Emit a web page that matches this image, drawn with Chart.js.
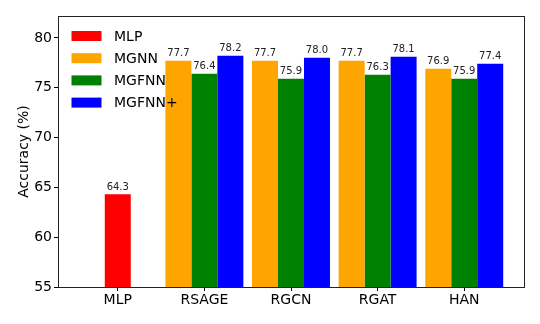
<!DOCTYPE html>
<html><head><meta charset="utf-8">
<script src="https://cdn.jsdelivr.net/npm/chart.js@4.4.0/dist/chart.umd.min.js"></script>
<style>html,body{margin:0;padding:0;background:#fff}#wrap{width:540px;height:324px;position:relative}</style>
</head><body><div id="wrap"><canvas id="c"></canvas></div>
<script>
const categories = ['MLP', 'RSAGE', 'RGCN', 'RGAT', 'HAN'];
const seriesNames = ['MLP', 'MGNN', 'MGFNN', 'MGFNN+'];
const mlpValues = [64.3, null, null, null, null];
const mgnnValues = [null, 77.7, 77.7, 77.7, 76.9];
const mgfnnValues = [null, 76.4, 75.9, 76.3, 75.9];
const mgfnnPlusValues = [null, 78.2, 78.0, 78.1, 77.4];
const yTicks = [55, 60, 65, 70, 75, 80];
const colors = ['#ff0000', '#ffa500', '#008000', '#0000ff'];

const FONT = "'DejaVu Sans', sans-serif";
const seriesValues = [mlpValues, mgnnValues, mgfnnValues, mgfnnPlusValues];

const datasets = seriesNames.map((name, i) => ({
  label: name,
  data: seriesValues[i],
  backgroundColor: colors[i],
  borderWidth: 0,
  categoryPercentage: 0.9,
  barPercentage: i === 0 ? 1 / 3 : 1,
  skipNull: true
}));

const framePlugin = {
  id: 'frame',
  afterDatasetsDraw(chart) {
    const {ctx, chartArea: a} = chart;
    ctx.save();
    ctx.strokeStyle = '#222';
    ctx.lineWidth = 1;
    ctx.strokeRect(Math.round(a.left) + 0.5, Math.round(a.top) + 0.5,
      Math.round(a.right - a.left), Math.round(a.bottom - a.top));
    ctx.restore();
  }
};

const valueLabelPlugin = {
  id: 'valueLabels',
  afterDatasetsDraw(chart) {
    const {ctx} = chart;
    ctx.save();
    ctx.font = '10px ' + FONT;
    ctx.fillStyle = '#222';
    ctx.textAlign = 'center';
    ctx.textBaseline = 'bottom';
    chart.data.datasets.forEach((ds, di) => {
      const meta = chart.getDatasetMeta(di);
      meta.data.forEach((el, idx) => {
        const v = ds.data[idx];
        if (v === null || v === undefined) return;
        ctx.fillText(v.toFixed(1), el.x, el.y - 2);
      });
    });
    ctx.restore();
  }
};

const legendPlugin = {
  id: 'innerLegend',
  afterDraw(chart) {
    const {ctx, chartArea: a} = chart;
    ctx.save();
    ctx.font = '14px ' + FONT;
    ctx.textBaseline = 'middle';
    ctx.textAlign = 'left';
    chart.data.datasets.forEach((ds, i) => {
      const cy = a.top + 20 + i * 22.2;
      const x0 = a.left + 13.5;
      ctx.fillStyle = ds.backgroundColor;
      ctx.fillRect(x0, cy - 5, 30, 10);
      ctx.fillStyle = '#000';
      ctx.fillText(ds.label, x0 + 42.5, cy + 1);
    });
    ctx.restore();
  }
};

new Chart(document.getElementById('c'), {
  type: 'bar',
  data: {
    labels: categories.map((c, i) => i),
    datasets
  },
  options: {
    responsive: true,
    maintainAspectRatio: false,
    animation: false,
    layout: {padding: {left: 0, top: 16, right: 16, bottom: 0}},
    plugins: {legend: {display: false}, tooltip: {enabled: false}},
    scales: {
      x: {
        type: 'linear',
        min: -0.69,
        max: 4.69,
        offset: false,
        grid: {offset: false, drawOnChartArea: false, drawTicks: true, tickLength: 4, color: '#000'},
        border: {display: false},
        ticks: {
          stepSize: 1,
          includeBounds: false,
          autoSkip: false,
          maxRotation: 0,
          padding: 1,
          color: '#000',
          font: {family: FONT, size: 14},
          callback: (v) => (categories[v] !== undefined ? categories[v] : '')
        },
        afterBuildTicks: (s) => { s.ticks = categories.map((c, i) => ({value: i})); },
        afterFit: (s) => { s.height = 37; }
      },
      y: {
        min: 55,
        max: 82.2,
        grid: {drawOnChartArea: false, drawTicks: true, tickLength: 4, color: '#000'},
        border: {display: false},
        ticks: {
          stepSize: 5,
          includeBounds: false,
          padding: 2,
          color: '#000',
          font: {family: FONT, size: 14}
        },
        afterBuildTicks: (s) => { s.ticks = yTicks.map(v => ({value: v})); },
        title: {
          display: true,
          text: 'Accuracy (%)',
          color: '#000',
          font: {family: FONT, size: 14},
          padding: {top: 16, bottom: 0}
        },
        afterFit: (s) => { s.width = 58; }
      }
    }
  },
  plugins: [framePlugin, valueLabelPlugin, legendPlugin]
});
</script>
</body></html>
